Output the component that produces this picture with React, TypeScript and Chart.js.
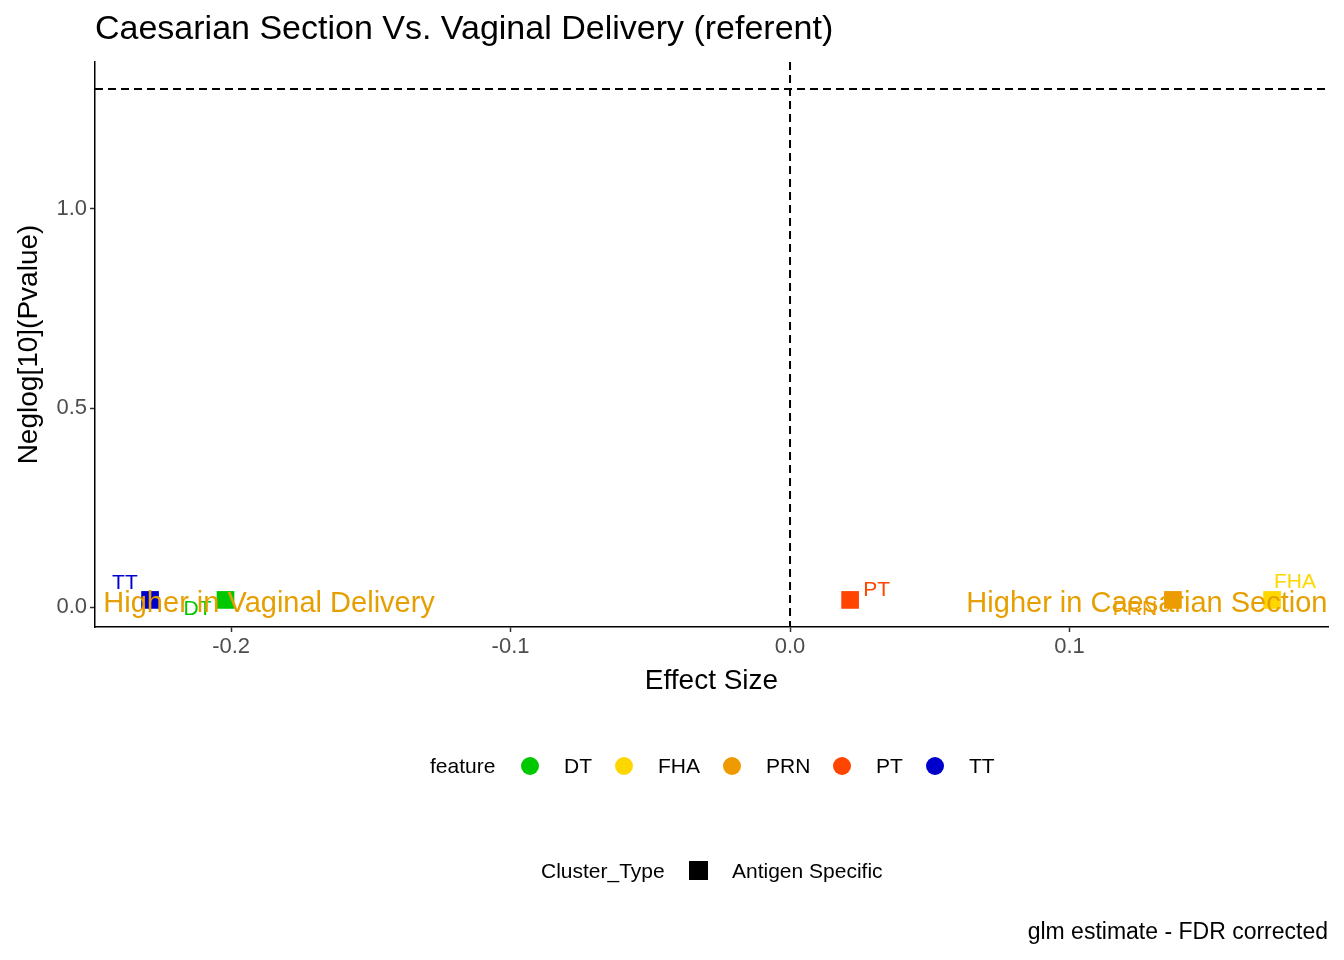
import React, { useEffect, useRef } from "react";
import { Chart, registerables } from "chart.js";
Chart.register(...registerables);

const features = ["DT", "FHA", "PRN", "PT", "TT"];
const colors = ["#00C800", "#FFD700", "#EE9A00", "#FF4500", "#0000CD"];
const effect = [-0.202, 0.1725, 0.137, 0.0215, -0.229];
const neglogP = [0.018, 0.018, 0.018, 0.018, 0.018];
const labelX = [-0.212, 0.1807, 0.1234, 0.031, -0.238];
const labelY = [-0.005, 0.063, -0.005, 0.043, 0.06];
const sideLabels = ["Higher in Vaginal Delivery", "Higher in Caesarian Section"];
const sideX = [-0.1864, 0.1277];
const sideY = [0.0075, 0.0075];
const FONT = "'Liberation Sans', Arial, sans-serif";

export default function App() {
  const ref = useRef<HTMLCanvasElement>(null);
  useEffect(() => {
    const plugin = {
      id: "extras",
      afterDatasetsDraw(c: any) {
        const ctx = c.ctx, xs = c.scales.x, ys = c.scales.y, a = c.chartArea;
        ctx.save();
        ctx.setLineDash([8, 5]);
        ctx.strokeStyle = "#000";
        ctx.lineWidth = 2;
        ctx.beginPath();
        const yl = ys.getPixelForValue(-Math.log10(0.05));
        ctx.moveTo(a.left, yl); ctx.lineTo(a.right, yl);
        const xl = xs.getPixelForValue(0);
        ctx.moveTo(xl, a.top); ctx.lineTo(xl, a.bottom);
        ctx.stroke();
        ctx.setLineDash([]);
        ctx.textAlign = "center"; ctx.textBaseline = "middle";
        ctx.font = `21px ${FONT}`;
        features.forEach((f, i) => {
          ctx.fillStyle = colors[i];
          ctx.fillText(f, xs.getPixelForValue(labelX[i]), ys.getPixelForValue(labelY[i]));
        });
        ctx.font = `29px ${FONT}`;
        ctx.fillStyle = "#E69F00";
        sideLabels.forEach((s, i) => ctx.fillText(s, xs.getPixelForValue(sideX[i]), ys.getPixelForValue(sideY[i])));
        ctx.fillStyle = "#000"; ctx.textAlign = "left";
        ctx.font = `34px ${FONT}`;
        ctx.fillText("Caesarian Section Vs. Vaginal Delivery (referent)", 95, 30);
        ctx.font = `21px ${FONT}`;
        ctx.fillText("feature", 430, 767);
        const lx = [530, 624, 732, 842, 935];
        features.forEach((f, i) => {
          ctx.fillStyle = colors[i];
          ctx.beginPath(); ctx.arc(lx[i], 766, 9, 0, Math.PI * 2); ctx.fill();
          ctx.fillStyle = "#000";
          ctx.fillText(f, lx[i] + 34, 767);
        });
        ctx.fillText("Cluster_Type", 541, 872);
        ctx.fillRect(689, 861, 19, 19);
        ctx.fillText("Antigen Specific", 732, 872);
        ctx.textAlign = "right";
        ctx.font = `23px ${FONT}`;
        ctx.fillText("glm estimate - FDR corrected", 1328, 933);
        ctx.restore();
      },
    };
    const chart = new Chart(ref.current!, {
      type: "scatter",
      data: {
        datasets: features.map((f, i) => ({
          label: f,
          data: [{ x: effect[i], y: neglogP[i] }],
          pointStyle: "rect",
          pointRadius: 12.5,
          backgroundColor: colors[i],
          borderWidth: 0,
        })),
      },
      options: {
        animation: false,
        responsive: false,
        layout: { padding: { top: 62, right: 16, bottom: 258, left: 0 } },
        plugins: { legend: { display: false }, tooltip: { enabled: false }, title: { display: false } },
        scales: {
          x: {
            min: -0.2487, max: 0.1925,
            grid: { display: true, drawOnChartArea: false, drawTicks: true, tickLength: 5, color: "#333", tickWidth: 1.5 },
            border: { color: "#000", width: 1.5 },
            afterBuildTicks: (s: any) => { s.ticks = [-0.2, -0.1, 0, 0.1].map((v) => ({ value: v })); },
            ticks: { color: "#4d4d4d", font: { size: 22, family: FONT }, callback: (v: any) => Number(v).toFixed(1), padding: 2 },
            title: { display: true, text: "Effect Size", color: "#000", font: { size: 28, family: FONT }, padding: { top: 0 } },
            afterFit: (s: any) => { s.height = 75; },
          },
          y: {
            min: -0.05, max: 1.369,
            grid: { display: true, drawOnChartArea: false, drawTicks: true, tickLength: 5, color: "#333", tickWidth: 1.5 },
            border: { color: "#000", width: 1.5 },
            afterBuildTicks: (s: any) => { s.ticks = [0, 0.5, 1].map((v) => ({ value: v })); },
            ticks: { color: "#4d4d4d", font: { size: 22, family: FONT }, callback: (v: any) => Number(v).toFixed(1), padding: 3 },
            title: { display: true, text: "Neglog[10](Pvalue)", color: "#000", font: { size: 28, family: FONT }, padding: { top: 12, bottom: 0 } },
            afterFit: (s: any) => { s.width = 95; },
          },
        },
      },
      plugins: [plugin],
    } as any);
    return () => chart.destroy();
  }, []);
  return (
    <div style={{ position: "absolute", left: 0, top: 0, width: 1344, height: 960, background: "#fff" }}>
      <canvas ref={ref} width={1344} height={960} />
    </div>
  );
}
